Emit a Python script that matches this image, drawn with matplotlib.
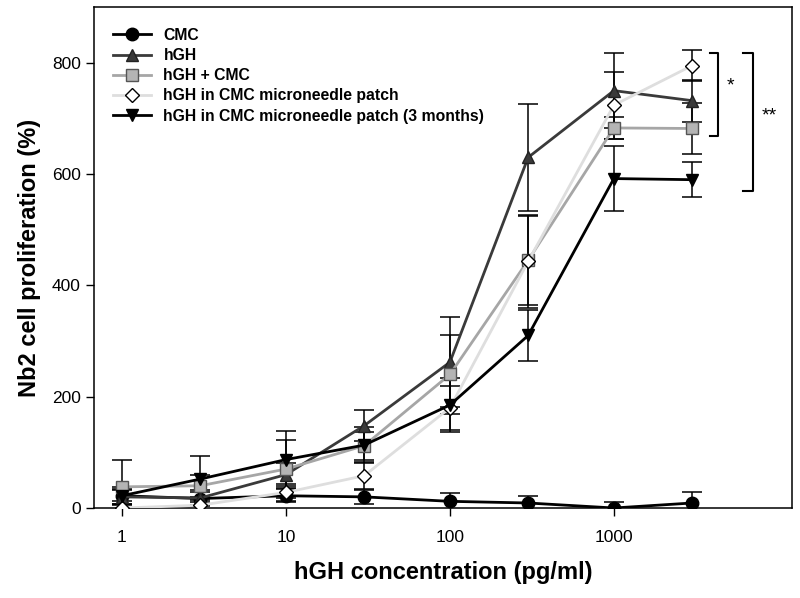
"""Nb2 cell proliferation vs hGH concentration."""

import matplotlib
matplotlib.use("Agg")
import matplotlib.pyplot as plt
from matplotlib.ticker import FixedLocator, FixedFormatter, NullLocator

plt.rcParams["font.family"] = ["Liberation Sans", "DejaVu Sans"]

conc = [1, 3, 10, 30, 100, 300, 1000, 3000]

cmc = [22, 17, 22, 20, 12, 9, 0, 9]
cmc_err = [10, 12, 12, 13, 15, 13, 11, 20]

hgh = [20, 18, 60, 148, 262, 630, 750, 732]
hgh_err = [15, 15, 20, 28, 81, 96, 68, 38]

hgh_cmc = [38, 40, 70, 112, 240, 445, 683, 682]
hgh_cmc_err = [48, 20, 52, 25, 71, 80, 20, 46]

patch = [0, 5, 28, 58, 180, 443, 724, 795]
patch_err = [8, 10, 15, 24, 40, 83, 60, 28]

patch3m = [22, 52, 87, 113, 185, 310, 592, 590]
patch3m_err = [15, 41, 51, 32, 48, 46, 58, 31]

series = [
    ("CMC", cmc, cmc_err, "o", "black", "black", "black"),
    ("hGH", hgh, hgh_err, "^", "#3a3a3a", "#3a3a3a", "#222222"),
    ("hGH + CMC", hgh_cmc, hgh_cmc_err, "s", "#a6a6a6", "#b4b4b4", "#555555"),
    ("hGH in CMC microneedle patch", patch, patch_err, "D", "#dedede", "white", "black"),
    ("hGH in CMC microneedle patch (3 months)", patch3m, patch3m_err, "v", "black", "black", "black"),
]

fig = plt.figure(figsize=(8.0, 5.98), dpi=100)
ax = fig.add_axes([0.1175, 0.1505, 0.8725, 0.8375])

for label, vals, err, mk, lc, fc, ec in series:
    ax.errorbar(conc, vals, yerr=err, fmt="none", ecolor="black", elinewidth=1.1,
                capsize=7, capthick=1.1, zorder=2)
    ms = 7.5 if mk == "D" else 9
    ax.plot(conc, vals, color=lc, lw=2, marker=mk, ms=ms, markerfacecolor=fc,
            markeredgecolor=ec, markeredgewidth=1.0, label=label, zorder=3)

ax.set_xscale("log")
ax.set_xlim(0.675, 12200)
ax.set_ylim(0, 900)
ax.xaxis.set_major_locator(FixedLocator([1, 10, 100, 1000]))
ax.xaxis.set_major_formatter(FixedFormatter(["1", "10", "100", "1000"]))
ax.xaxis.set_minor_locator(NullLocator())
ax.set_yticks([0, 200, 400, 600, 800])
ax.tick_params(axis="both", direction="out", length=6, width=1, labelsize=12.5, colors="black")
ax.tick_params(axis="x", pad=10)
for sp in ax.spines.values():
    sp.set_linewidth(1.1)

ax.set_xlabel("hGH concentration (pg/ml)", fontsize=17, fontweight="bold", labelpad=11)
ax.set_ylabel("Nb2 cell proliferation (%)", fontsize=17, fontweight="bold", labelpad=8)

leg = ax.legend(loc="upper left", frameon=False, prop={"weight": "bold", "size": 11.3},
                handlelength=2.4, labelspacing=0.33, borderaxespad=0.6,
                bbox_to_anchor=(0.005, 0.99))

# significance brackets
b1_x, b1_tick, b1_lo, b1_hi = 4300, 3850, 669, 818
ax.plot([b1_tick, b1_x, b1_x, b1_tick], [b1_hi, b1_hi, b1_lo, b1_lo], color="black", lw=1.5, clip_on=False)
ax.text(4900, 759, "*", fontsize=14, ha="left", va="center")
b2_x, b2_tick, b2_lo, b2_hi = 7040, 6120, 570, 818
ax.plot([b2_tick, b2_x, b2_x, b2_tick], [b2_hi, b2_hi, b2_lo, b2_lo], color="black", lw=1.5, clip_on=False)
ax.text(8000, 705, "**", fontsize=14, ha="left", va="center")

fig.savefig("out.png", dpi=100)
